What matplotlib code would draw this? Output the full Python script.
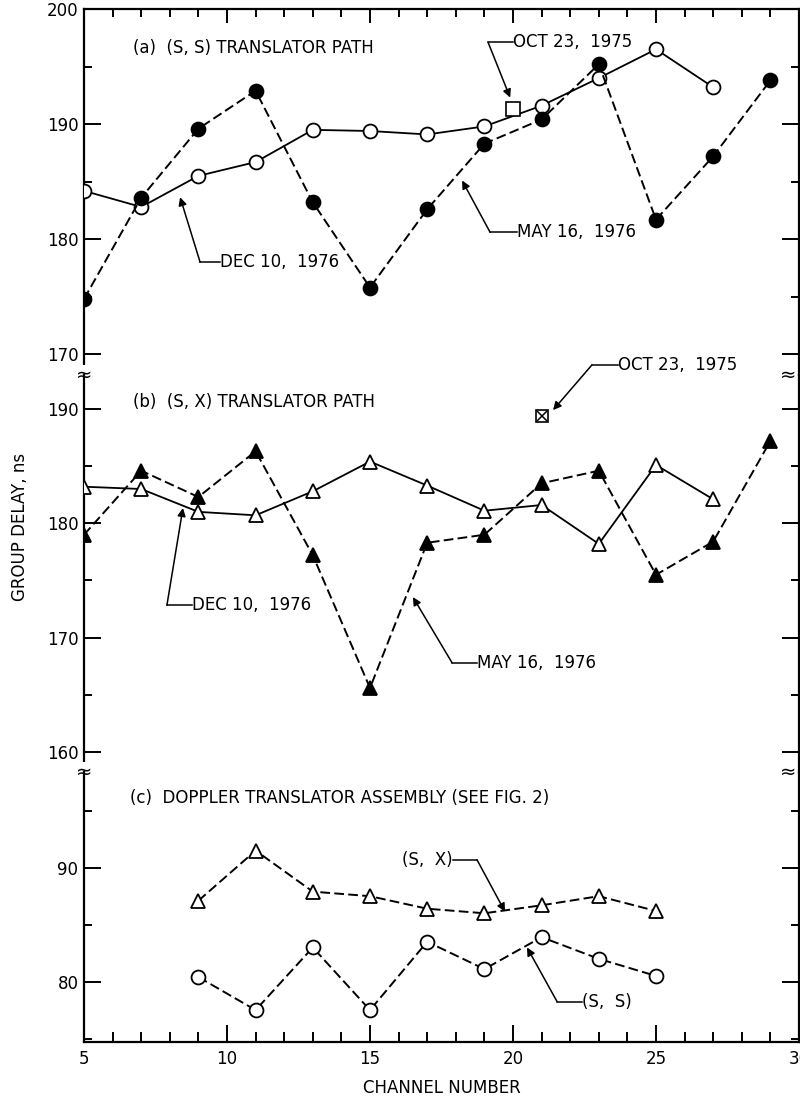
import numpy as np
import matplotlib
matplotlib.use("Agg")
import matplotlib.pyplot as plt
from matplotlib.ticker import MultipleLocator

plt.rcParams["font.family"] = ["DejaVu Sans"]

# (a) (S, S) translator path
ch_a_dec = [5, 7, 9, 11, 13, 15, 17, 19, 21, 23, 25, 27]
gd_a_dec = [184.2, 182.8, 185.5, 186.7, 189.5, 189.4, 189.1, 189.8, 191.6, 194.0, 196.5, 193.2]
ch_a_may = [5, 7, 9, 11, 13, 15, 17, 19, 21, 23, 25, 27, 29]
gd_a_may = [174.8, 183.6, 189.6, 192.9, 183.2, 175.8, 182.6, 188.3, 190.4, 195.2, 181.7, 187.2, 193.8]
ch_a_oct = [20]
gd_a_oct = [191.3]

# (b) (S, X) translator path
ch_b_dec = [5, 7, 9, 11, 13, 15, 17, 19, 21, 23, 25, 27]
gd_b_dec = [183.2, 183.0, 181.0, 180.7, 182.8, 185.4, 183.3, 181.1, 181.6, 178.2, 185.1, 182.1]
ch_b_may = [5, 7, 9, 11, 13, 15, 17, 19, 21, 23, 25, 27, 29]
gd_b_may = [179.0, 184.6, 182.3, 186.3, 177.2, 165.6, 178.3, 179.0, 183.5, 184.6, 175.5, 178.4, 187.2]
ch_b_oct = [21]
gd_b_oct = [189.4]

# (c) Doppler translator assembly
ch_c = [9, 11, 13, 15, 17, 19, 21, 23, 25]
gd_c_sx = [87.1, 91.5, 87.9, 87.5, 86.4, 86.0, 86.7, 87.5, 86.2]
gd_c_ss = [80.4, 77.5, 83.0, 77.5, 83.5, 81.1, 83.9, 82.0, 80.5]

W, H = 800, 1101
fig = plt.figure(figsize=(W / 100, H / 100), dpi=100)

LEFT, RIGHT = 84, 799
FS = 12


def add_panel(top_px, bot_px, ylim):
    ax = fig.add_axes([LEFT / W, 1 - bot_px / H, (RIGHT - LEFT) / W, (bot_px - top_px) / H])
    ax.set_facecolor("none")
    ax.set_xlim(5, 30)
    ax.set_ylim(*ylim)
    for s in ax.spines.values():
        s.set_linewidth(1.6)
    ax.spines["top"].set_visible(False)
    ax.spines["bottom"].set_visible(False)
    ax.yaxis.set_major_locator(MultipleLocator(10))
    ax.yaxis.set_minor_locator(MultipleLocator(5))
    ax.tick_params(axis="y", which="both", direction="in", left=True, right=True,
                   labelsize=FS, width=1.4, pad=4)
    ax.tick_params(axis="y", which="major", length=12)
    ax.tick_params(axis="y", which="minor", length=6)
    ax.xaxis.set_major_locator(MultipleLocator(5))
    ax.xaxis.set_minor_locator(MultipleLocator(1))
    ax.tick_params(axis="x", which="both", bottom=False, top=False,
                   labelbottom=False, labeltop=False)
    return ax


ax_a = add_panel(9, 375, (168.2, 200))
ax_b = add_panel(375, 772, (158.25, 192.97))
ax_c = add_panel(772, 1042, (74.7, 98.4))

ax_a.spines["top"].set_visible(True)
ax_a.tick_params(axis="x", which="both", top=True, direction="in", width=1.4)
ax_a.tick_params(axis="x", which="major", length=10)
ax_a.tick_params(axis="x", which="minor", length=6)

ax_c.spines["bottom"].set_visible(True)
ax_c.tick_params(axis="x", which="both", bottom=True, labelbottom=True,
                 direction="in", width=1.4, labelsize=FS, pad=6)
ax_c.tick_params(axis="x", which="major", length=12)
ax_c.tick_params(axis="x", which="minor", length=7)

ms = 10
solid = dict(color="black", lw=1.3, ls="-", mew=1.3, ms=ms)
dashed = dict(color="black", lw=1.4, ls=(0, (5, 2.2)), mew=1.3, ms=ms)

# panel a
ax_a.plot(ch_a_dec, gd_a_dec, marker="o", mfc="white", mec="black", zorder=3, **solid)
ax_a.plot(ch_a_may, gd_a_may, marker="o", mfc="black", mec="black", zorder=3, **dashed)
ax_a.plot(ch_a_oct, gd_a_oct, marker="s", ls="none", mfc="white", mec="black", ms=10, mew=1.2, zorder=3)

# panel b
ax_b.plot(ch_b_dec, gd_b_dec, marker="^", mfc="white", mec="black", zorder=3, **solid)
ax_b.plot(ch_b_may, gd_b_may, marker="^", mfc="black", mec="black", zorder=3, **dashed)
ax_b.plot(ch_b_oct, gd_b_oct, marker="s", ls="none", mfc="white", mec="black", ms=9, mew=1.2, zorder=3)
ax_b.plot(ch_b_oct, gd_b_oct, marker="x", ls="none", mec="black", ms=7, mew=1.1, zorder=4)

# panel c
ax_c.plot(ch_c, gd_c_sx, marker="^", mfc="white", mec="black", zorder=3, **dashed)
ax_c.plot(ch_c, gd_c_ss, marker="o", mfc="white", mec="black", zorder=3, **dashed)


def leader(ax, label, text_x, text_y, corner_x, tip, ha="left"):
    # horizontal tag line, then slanted arrow down to the curve
    ax.plot([corner_x, text_x], [text_y, text_y], color="black", lw=1.1, clip_on=False)
    ax.annotate("", xy=tip, xytext=(corner_x, text_y), annotation_clip=False,
                arrowprops=dict(arrowstyle="-|>", color="black", lw=1.1,
                                shrinkA=0, shrinkB=0, mutation_scale=12))
    ax.text(text_x, text_y, label, ha=ha, va="center", fontsize=FS, clip_on=False)


ax_a.text(6.71, 196.6, "(a)  (S, S) TRANSLATOR PATH", fontsize=FS, va="center")
leader(ax_a, "OCT 23,  1975", 20.0, 197.1, 19.13, (19.9, 192.3))
leader(ax_a, "MAY 16,  1976", 20.14, 180.6, 19.2, (18.22, 185.1))
leader(ax_a, "DEC 10,  1976", 9.76, 178.0, 9.06, (8.36, 183.65))

ax_b.text(6.71, 190.6, "(b)  (S, X) TRANSLATOR PATH", fontsize=FS, va="center")
leader(ax_b, "OCT 23,  1975", 23.67, 193.85, 22.76, (21.4, 189.9))
leader(ax_b, "DEC 10,  1976", 8.78, 172.85, 7.9, (8.46, 181.34))
leader(ax_b, "MAY 16,  1976", 18.74, 167.8, 17.87, (16.5, 173.55))

ax_c.text(6.6, 96.1, "(c)  DOPPLER TRANSLATOR ASSEMBLY (SEE FIG. 2)", fontsize=FS, va="center")
leader(ax_c, "(S,  X)", 17.9, 90.7, 18.74, (19.72, 86.14), ha="right")
leader(ax_c, "(S,  S)", 22.41, 78.25, 21.54, (20.49, 83.0))

# axis break marks on both spines
for ax in (ax_a, ax_b):
    for xf in (0.0, 0.985):
        ax.text(xf, 0.0, "\u2248", transform=ax.transAxes, ha="center", va="center",
                fontsize=14, clip_on=False,
                bbox=dict(facecolor="white", edgecolor="none", pad=0.2), zorder=5)

fig.text(20 / W, 1 - 527 / H, "GROUP DELAY, ns", rotation=90, ha="center", va="center", fontsize=FS)
fig.text((LEFT + RIGHT) / 2 / W, 1 - 1088 / H, "CHANNEL NUMBER", ha="center", va="center", fontsize=FS)

fig.savefig("out.png", dpi=100)
